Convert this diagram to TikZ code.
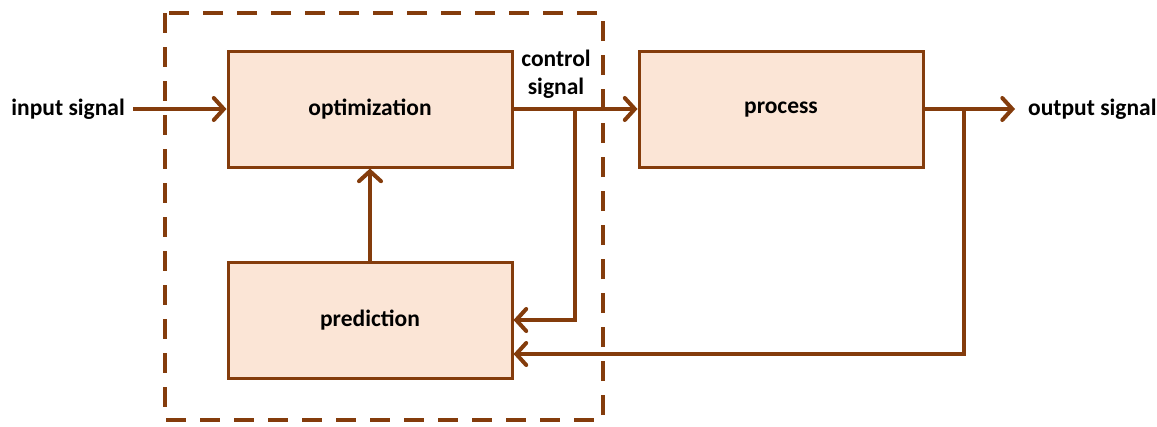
\documentclass[tikz,border=0pt]{standalone}
\usepackage{fontspec}
\setmainfont{Carlito}
\usetikzlibrary{arrows.meta}
\definecolor{brn}{HTML}{843C0C}
\definecolor{peach}{HTML}{FBE5D6}
\tikzset{
  block/.style={draw=brn, fill=peach, line width=3pt, minimum width=284pt, minimum height=116pt, inner sep=0pt, text depth=3pt, font=\bfseries\fontsize{23.5}{28}\selectfont},
  lbl/.style={inner sep=0pt, font=\bfseries\fontsize{23.5}{28}\selectfont},
  flow/.style={draw=brn, line width=4pt, line join=miter, -{Straight Barb[length=10pt,width=22pt,line cap=round]}},
  frame/.style={draw=brn, line width=4pt, dash pattern=on 20pt off 14pt}
}
\begin{document}
\begin{tikzpicture}[x=1pt, y=-1pt]
\useasboundingbox (0,0) rectangle (1157,426);
% controller boundary
\draw[frame] (165,13) rectangle (603,420);
% blocks
\node[block] (opt)  at (370,109) {optimization};
\node[block] (pred) at (370,320) {prediction};
\node[block] (proc) at (781,109) {process};
% labels
\node[lbl, anchor=east] (in)  at (125,109) {input signal};
\node[lbl, anchor=west] (out) at (1028,109) {output signal};
\node[lbl, align=center] (ctl) at (556,74) {control\\signal};
% signal path
\coordinate (inS) at (133,109);
\coordinate (brA) at (575,109);
\coordinate (brB) at (964,109);
\coordinate (outE) at (1015,109);
\draw[flow] (inS) -- (opt.west);
\draw[flow] (opt.east) -- (proc.west);
\draw[flow] (proc.east) -- (outE);
\draw[flow] (pred.north) -- (opt.south);
% feedback branches
\draw[flow] (brA) |- (pred.east |- 0,320);
\draw[flow] (brB) |- (pred.east |- 0,354);
\end{tikzpicture}
\end{document}
